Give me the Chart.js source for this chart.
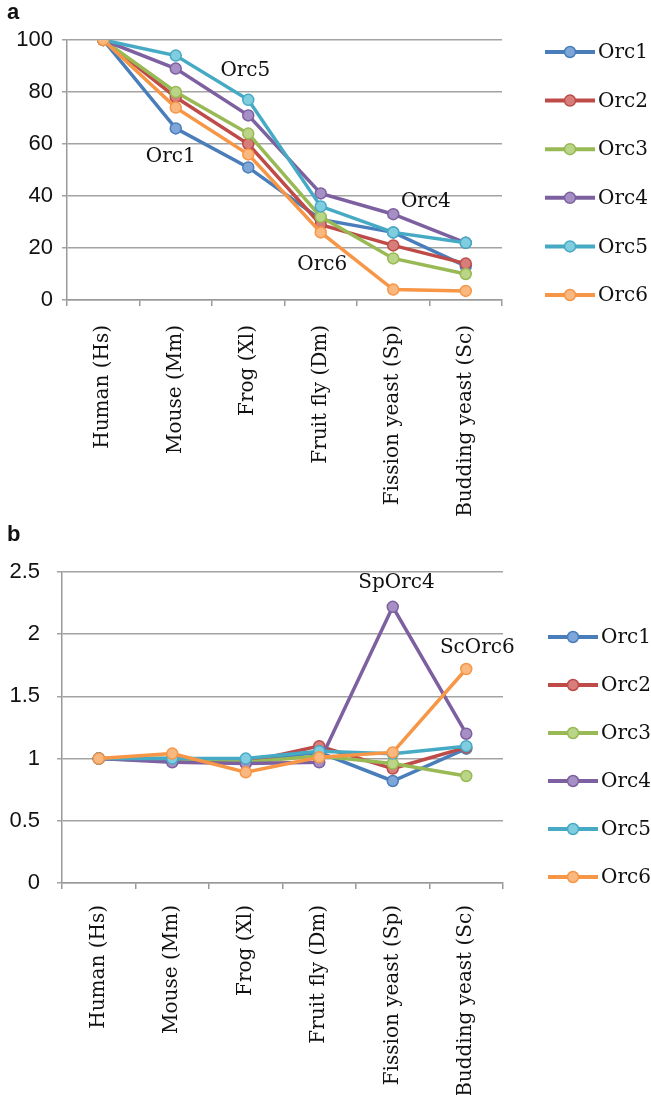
<!DOCTYPE html>
<html>
<head>
<meta charset="utf-8">
<script src="https://cdn.jsdelivr.net/npm/chart.js@4.4.1/dist/chart.umd.min.js"></script>
<style>
  body { margin: 0; background: #fff; width: 651px; height: 1095px; position: relative; overflow: hidden; }
  .panel { position: absolute; left: 0; width: 651px; }
  #wrapA { top: 0; height: 530px; }
  #wrapB { top: 530px; height: 565px; }
  .tag { position: absolute; font: bold 22px "Liberation Sans", Arial, sans-serif; color: #111; z-index: 2; }
</style>
</head>
<body>
<div class="panel" id="wrapA"><canvas id="chartA" width="651" height="530"></canvas></div>
<div class="panel" id="wrapB"><canvas id="chartB" width="651" height="565"></canvas></div>
<div class="tag" style="left:7px;top:-1px">a</div>
<div class="tag" style="left:7px;top:521px">b</div>
<script>
// categorias y series
const categorias = ['Human (Hs)', 'Mouse (Mm)', 'Frog (Xl)', 'Fruit fly (Dm)', 'Fission yeast (Sp)', 'Budding yeast (Sc)'];
const series = ['Orc1', 'Orc2', 'Orc3', 'Orc4', 'Orc5', 'Orc6'];
const colores = ['#4A7EBB', '#BE4B48', '#98B954', '#7D60A0', '#46AAC5', '#F79646'];
const rellenos = ['#7FA6D8', '#D77E7B', '#BAD488', '#A68FC4', '#80CDE0', '#F9B880'];

// panel a: identidad (%)
const orc1A = [100, 66, 51, 31, 26, 13];
const orc2A = [100, 78, 60, 29, 21, 14];
const orc3A = [100, 80, 64, 32, 16, 10];
const orc4A = [100, 89, 71, 41, 33, 22];
const orc5A = [100, 94, 77, 36, 26, 22];
const orc6A = [100, 74, 56, 26, 4, 3.5];
const ticksA = [0, 20, 40, 60, 80, 100];
const notasA = [['Orc5', 1.96, 88], ['Orc1', 0.93, 55], ['Orc6', 3.02, 13.5], ['Orc4', 4.45, 37.7]];

// panel b: relativo
const orc1B = [1.0, 0.98, 0.98, 1.05, 0.82, 1.08];
const orc2B = [1.0, 1.0, 0.97, 1.10, 0.92, 1.09];
const orc3B = [1.0, 1.0, 0.97, 1.02, 0.96, 0.86];
const orc4B = [1.0, 0.97, 0.96, 0.97, 2.22, 1.20];
const orc5B = [1.0, 1.0, 1.0, 1.06, 1.04, 1.10];
const orc6B = [1.0, 1.04, 0.89, 1.01, 1.05, 1.72];
const ticksB = [0, 0.5, 1, 1.5, 2, 2.5];
const notasB = [['SpOrc4', 4.05, 2.41], ['ScOrc6', 5.15, 1.89]];

const serif = '"DejaVu Serif", "Liberation Serif", serif';
const sans = '"Liberation Sans", Arial, sans-serif';

function armarDatasets(valores) {
  return valores.map((data, i) => ({
    label: series[i],
    data,
    borderColor: colores[i],
    backgroundColor: rellenos[i],
    pointBackgroundColor: rellenos[i],
    pointBorderColor: colores[i],
    pointBorderWidth: 1.5,
    pointRadius: 5.5,
    borderWidth: 3.5,
    tension: 0,
    order: valores.length - i
  }));
}

// notas de texto + leyenda lateral
const extras = {
  id: 'extras',
  afterDatasetsDraw(chart, args, opts) {
    const ctx = chart.ctx, xs = chart.scales.x, ys = chart.scales.y;
    ctx.save();
    ctx.font = `20px ${serif}`;
    ctx.fillStyle = '#111';
    ctx.textAlign = 'center';
    ctx.textBaseline = 'middle';
    opts.notas.forEach(([t, i, v]) => ctx.fillText(t, xs.getPixelForValue(i), ys.getPixelForValue(v)));
    chart.data.datasets.forEach((ds, k) => {
      const y = opts.top + k * opts.gap, x0 = opts.left;
      ctx.strokeStyle = ds.borderColor;
      ctx.lineWidth = 4;
      ctx.beginPath(); ctx.moveTo(x0, y); ctx.lineTo(x0 + 50, y); ctx.stroke();
      ctx.beginPath(); ctx.arc(x0 + 25, y, 5.5, 0, Math.PI * 2);
      ctx.fillStyle = ds.pointBackgroundColor; ctx.fill();
      ctx.lineWidth = 1.5; ctx.stroke();
      ctx.fillStyle = '#111';
      ctx.textAlign = 'left';
      ctx.fillText(ds.label, x0 + 53, y + 1);
    });
    ctx.restore();
  }
};

function opciones(ticks, notas, leyenda, caja) {
  return {
    responsive: false,
    animation: false,
    devicePixelRatio: 1,
    layout: { padding: { left: 7, right: caja.right, top: caja.top, bottom: 0 } },
    plugins: { legend: { display: false }, tooltip: { enabled: false }, extras: Object.assign({ notas }, leyenda) },
    scales: {
      x: {
        offset: true,
        afterFit: s => { s.height = caja.xh; },
        border: { color: '#9a9a9a', width: 1.5 },
        grid: { display: true, offset: true, drawOnChartArea: false, drawTicks: true, tickLength: 6, color: '#9a9a9a', lineWidth: 1.5 },
        ticks: { minRotation: 90, maxRotation: 90, autoSkip: false, padding: caja.xp, color: '#111', font: { family: serif, size: 20 } }
      },
      y: {
        min: ticks[0],
        max: ticks[ticks.length - 1],
        afterFit: s => { s.width = caja.yw; },
        border: { color: '#9a9a9a', width: 1.5 },
        grid: { color: '#a3a3a3', lineWidth: 1.5, tickLength: 5 },
        ticks: { stepSize: ticks[1] - ticks[0], padding: caja.tp, color: '#111', font: { family: sans, size: 22 }, callback: v => String(v) }
      }
    }
  };
}

new Chart(document.getElementById('chartA'), {
  type: 'line',
  data: { labels: categorias, datasets: armarDatasets([orc1A, orc2A, orc3A, orc4A, orc5A, orc6A]) },
  options: opciones(ticksA, notasA, { left: 545, top: 52, gap: 48.6 }, { right: 149, top: 40, xh: 230, yw: 60, tp: 9, xp: 19 }),
  plugins: [extras]
});

new Chart(document.getElementById('chartB'), {
  type: 'line',
  data: { labels: categorias, datasets: armarDatasets([orc1B, orc2B, orc3B, orc4B, orc5B, orc6B]) },
  options: opciones(ticksB, notasB, { left: 548, top: 107, gap: 48 }, { right: 148, top: 42, xh: 212, yw: 55, tp: 17, xp: 16 }),
  plugins: [extras]
});
</script>
</body>
</html>
